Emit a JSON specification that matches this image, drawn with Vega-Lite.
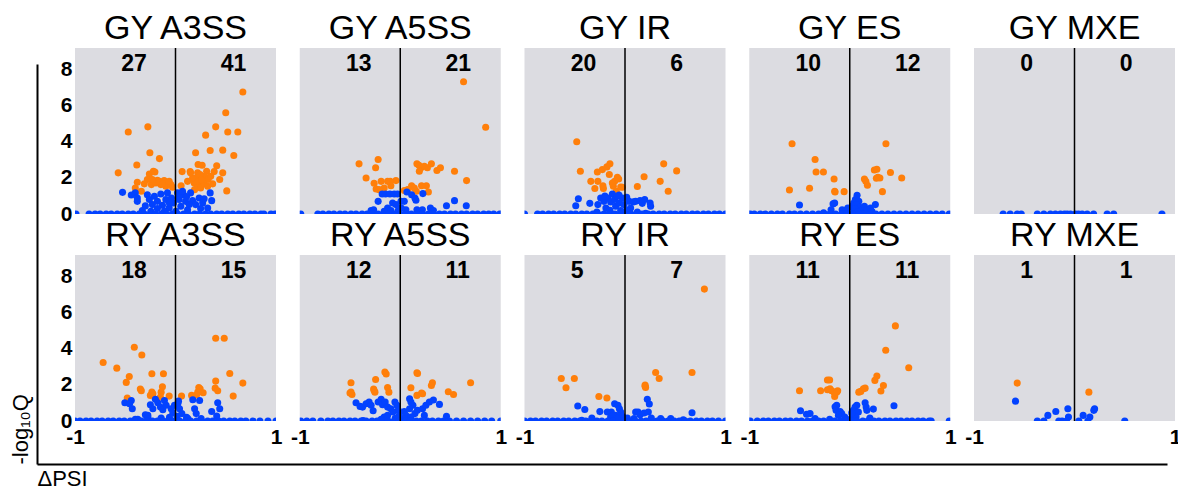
{
  "$schema": "https://vega.github.io/schema/vega-lite/v6.json",
  "background": "white",
  "padding": {"left": 9, "top": 12, "right": 0, "bottom": 0},
  "config": {
    "font": "Liberation Sans",
    "view": {"fill": "#dcdce1", "stroke": null},
    "axis": {"grid": false, "ticks": false, "domain": false, "labelColor": "black", "titleColor": "black"},
    "axisX": {"labelFontSize": 21, "labelFontWeight": "bold", "labelPadding": 5, "labelFlush": false},
    "axisY": {"labelFontSize": 21, "labelFontWeight": "bold", "labelPadding": 3},
    "title": {"fontSize": 34, "fontWeight": "normal", "color": "black", "anchor": "middle", "frame": "group", "baseline": "bottom", "offset": 1},
    "point": {"filled": true, "size": 50, "opacity": 1},
    "text": {"align": "left", "baseline": "alphabetic", "fontSize": 23, "fontWeight": "bold", "color": "black"},
    "rule": {"color": "black", "strokeWidth": 1.5},
    "range": {"category": ["#0342ff", "#ff7f0a"]}
  },
  "data": {"name": "volcano"},
  "datasets": {
    "volcano": [
      {"p":"GY A3SS","side":"L","n":27},{"p":"GY A3SS","side":"R","n":41},
      {"p":"GY A5SS","side":"L","n":13},{"p":"GY A5SS","side":"R","n":21},
      {"p":"GY IR","side":"L","n":20},{"p":"GY IR","side":"R","n":6},
      {"p":"GY ES","side":"L","n":10},{"p":"GY ES","side":"R","n":12},
      {"p":"GY MXE","side":"L","n":0},{"p":"GY MXE","side":"R","n":0},
      {"p":"RY A3SS","side":"L","n":18},{"p":"RY A3SS","side":"R","n":15},
      {"p":"RY A5SS","side":"L","n":12},{"p":"RY A5SS","side":"R","n":11},
      {"p":"RY IR","side":"L","n":5},{"p":"RY IR","side":"R","n":7},
      {"p":"RY ES","side":"L","n":11},{"p":"RY ES","side":"R","n":11},
      {"p":"RY MXE","side":"L","n":1},{"p":"RY MXE","side":"R","n":1},

      {"p":"GY A3SS","c":"sig","x":0.67,"y":6.76},{"p":"GY A3SS","c":"sig","x":0.5,"y":5.61},{"p":"GY A3SS","c":"sig","x":0.4,"y":4.83},{"p":"GY A3SS","c":"sig","x":0.3,"y":4.37},{"p":"GY A3SS","c":"sig","x":0.52,"y":4.54},{"p":"GY A3SS","c":"sig","x":0.62,"y":4.54},{"p":"GY A3SS","c":"sig","x":0.345,"y":3.52},{"p":"GY A3SS","c":"sig","x":0.47,"y":3.54},{"p":"GY A3SS","c":"sig","x":0.58,"y":3.24},{"p":"GY A3SS","c":"sig","x":0.2,"y":3.39},{"p":"GY A3SS","c":"sig","x":0.225,"y":2.74},{"p":"GY A3SS","c":"sig","x":0.265,"y":2.7},{"p":"GY A3SS","c":"sig","x":0.41,"y":2.67},{"p":"GY A3SS","c":"sig","x":0.066,"y":2.35},{"p":"GY A3SS","c":"sig","x":0.146,"y":2.35},{"p":"GY A3SS","c":"sig","x":0.22,"y":2.28},{"p":"GY A3SS","c":"sig","x":0.31,"y":2.37},{"p":"GY A3SS","c":"sig","x":0.385,"y":2.35},{"p":"GY A3SS","c":"sig","x":0.47,"y":2.28},{"p":"GY A3SS","c":"sig","x":0.21,"y":2.0},{"p":"GY A3SS","c":"sig","x":0.29,"y":2.09},{"p":"GY A3SS","c":"sig","x":0.325,"y":1.91},{"p":"GY A3SS","c":"sig","x":0.44,"y":1.91},{"p":"GY A3SS","c":"sig","x":0.186,"y":1.72},{"p":"GY A3SS","c":"sig","x":0.235,"y":1.67},{"p":"GY A3SS","c":"sig","x":0.27,"y":1.72},{"p":"GY A3SS","c":"sig","x":0.22,"y":1.54},{"p":"GY A3SS","c":"sig","x":0.25,"y":1.44},{"p":"GY A3SS","c":"sig","x":0.37,"y":1.67},{"p":"GY A3SS","c":"sig","x":0.056,"y":1.57},{"p":"GY A3SS","c":"sig","x":0.51,"y":1.28},{"p":"GY A3SS","c":"sig","x":0.2,"y":1.81},{"p":"GY A3SS","c":"sig","x":0.245,"y":2.19},{"p":"GY A3SS","c":"sig","x":0.35,"y":2.09},{"p":"GY A3SS","c":"sig","x":0.17,"y":1.99},{"p":"GY A3SS","c":"sig","x":0.285,"y":1.67},{"p":"GY A3SS","c":"sig","x":0.12,"y":1.81},{"p":"GY A3SS","c":"sig","x":0.32,"y":1.54},{"p":"GY A3SS","c":"sig","x":0.15,"y":2.28},{"p":"GY A3SS","c":"sig","x":0.26,"y":1.9},{"p":"GY A3SS","c":"sig","x":0.19,"y":1.35},
      {"p":"GY A3SS","c":"sig","x":-0.47,"y":4.54},{"p":"GY A3SS","c":"sig","x":-0.275,"y":4.83},{"p":"GY A3SS","c":"sig","x":-0.255,"y":3.39},{"p":"GY A3SS","c":"sig","x":-0.16,"y":3.07},{"p":"GY A3SS","c":"sig","x":-0.385,"y":2.72},{"p":"GY A3SS","c":"sig","x":-0.57,"y":2.28},{"p":"GY A3SS","c":"sig","x":-0.38,"y":1.76},{"p":"GY A3SS","c":"sig","x":-0.4,"y":1.44},{"p":"GY A3SS","c":"sig","x":-0.34,"y":1.26},{"p":"GY A3SS","c":"sig","x":-0.26,"y":2.22},{"p":"GY A3SS","c":"sig","x":-0.22,"y":2.37},{"p":"GY A3SS","c":"sig","x":-0.205,"y":2.33},{"p":"GY A3SS","c":"sig","x":-0.28,"y":1.91},{"p":"GY A3SS","c":"sig","x":-0.24,"y":1.63},{"p":"GY A3SS","c":"sig","x":-0.18,"y":1.87},{"p":"GY A3SS","c":"sig","x":-0.146,"y":1.63},{"p":"GY A3SS","c":"sig","x":-0.113,"y":1.85},{"p":"GY A3SS","c":"sig","x":-0.08,"y":1.72},{"p":"GY A3SS","c":"sig","x":-0.096,"y":1.54},{"p":"GY A3SS","c":"sig","x":-0.046,"y":1.63},{"p":"GY A3SS","c":"sig","x":-0.03,"y":1.48},{"p":"GY A3SS","c":"sig","x":-0.195,"y":1.72},{"p":"GY A3SS","c":"sig","x":-0.16,"y":1.81},{"p":"GY A3SS","c":"sig","x":-0.13,"y":1.67},{"p":"GY A3SS","c":"sig","x":-0.23,"y":1.91},{"p":"GY A3SS","c":"sig","x":-0.063,"y":1.81},{"p":"GY A3SS","c":"sig","x":-0.31,"y":1.67},
      {"p":"GY A3SS","c":"ns","x":-0.527,"y":1.2},{"p":"GY A3SS","c":"ns","x":-0.4,"y":1.17},{"p":"GY A3SS","c":"ns","x":-0.38,"y":0.89},{"p":"GY A3SS","c":"ns","x":-0.38,"y":0.7},{"p":"GY A3SS","c":"ns","x":-0.33,"y":0.19},{"p":"GY A3SS","c":"ns","x":-0.28,"y":1.07},{"p":"GY A3SS","c":"ns","x":-0.26,"y":0.8},{"p":"GY A3SS","c":"ns","x":-0.23,"y":0.52},{"p":"GY A3SS","c":"ns","x":-0.21,"y":0.98},{"p":"GY A3SS","c":"ns","x":-0.18,"y":0.7},{"p":"GY A3SS","c":"ns","x":-0.146,"y":1.11},{"p":"GY A3SS","c":"ns","x":-0.13,"y":0.48},{"p":"GY A3SS","c":"ns","x":-0.096,"y":0.8},{"p":"GY A3SS","c":"ns","x":-0.08,"y":1.17},{"p":"GY A3SS","c":"ns","x":-0.063,"y":0.33},{"p":"GY A3SS","c":"ns","x":-0.04,"y":0.89},{"p":"GY A3SS","c":"ns","x":-0.02,"y":0.61},{"p":"GY A3SS","c":"ns","x":0.02,"y":1.17},{"p":"GY A3SS","c":"ns","x":0.036,"y":0.8},{"p":"GY A3SS","c":"ns","x":0.053,"y":0.43},{"p":"GY A3SS","c":"ns","x":0.08,"y":1.07},{"p":"GY A3SS","c":"ns","x":0.1,"y":0.7},{"p":"GY A3SS","c":"ns","x":0.12,"y":0.24},{"p":"GY A3SS","c":"ns","x":0.15,"y":1.17},{"p":"GY A3SS","c":"ns","x":0.17,"y":0.74},{"p":"GY A3SS","c":"ns","x":0.2,"y":0.52},{"p":"GY A3SS","c":"ns","x":0.235,"y":0.89},{"p":"GY A3SS","c":"ns","x":0.27,"y":0.61},{"p":"GY A3SS","c":"ns","x":0.285,"y":0.85},{"p":"GY A3SS","c":"ns","x":0.345,"y":1.17},{"p":"GY A3SS","c":"ns","x":0.36,"y":0.74},{"p":"GY A3SS","c":"ns","x":0.32,"y":0.33},{"p":"GY A3SS","c":"ns","x":-0.245,"y":0.15},{"p":"GY A3SS","c":"ns","x":0.003,"y":0.15},{"p":"GY A3SS","c":"ns","x":0.036,"y":0.98},{"p":"GY A3SS","c":"ns","x":0.07,"y":1.26},{"p":"GY A3SS","c":"ns","x":-0.11,"y":0.15},{"p":"GY A3SS","c":"ns","x":0.136,"y":0.52},{"p":"GY A3SS","c":"ns","x":-0.18,"y":0.3},{"p":"GY A3SS","c":"ns","x":-0.44,"y":1.05},{"p":"GY A3SS","c":"ns","x":-0.3,"y":0.45},{"p":"GY A3SS","c":"ns","x":0.25,"y":0.3},{"p":"GY A3SS","c":"ns","x":-0.06,"y":0.6},{"p":"GY A3SS","c":"ns","x":0.11,"y":0.95},
      {"p":"GY A3SS","c":"ns","x":-0.99,"y":0},{"p":"GY A3SS","c":"ns","x":-0.86,"y":0},{"p":"GY A3SS","c":"ns","x":-0.8,"y":0},{"p":"GY A3SS","c":"ns","x":-0.75,"y":0},{"p":"GY A3SS","c":"ns","x":-0.69,"y":0},{"p":"GY A3SS","c":"ns","x":-0.64,"y":0},{"p":"GY A3SS","c":"ns","x":-0.58,"y":0},{"p":"GY A3SS","c":"ns","x":-0.53,"y":0},{"p":"GY A3SS","c":"ns","x":-0.47,"y":0},{"p":"GY A3SS","c":"ns","x":-0.42,"y":0},{"p":"GY A3SS","c":"ns","x":-0.36,"y":0},{"p":"GY A3SS","c":"ns","x":-0.31,"y":0},{"p":"GY A3SS","c":"ns","x":-0.25,"y":0},{"p":"GY A3SS","c":"ns","x":-0.2,"y":0},{"p":"GY A3SS","c":"ns","x":-0.14,"y":0},{"p":"GY A3SS","c":"ns","x":-0.09,"y":0},{"p":"GY A3SS","c":"ns","x":-0.03,"y":0},{"p":"GY A3SS","c":"ns","x":0.02,"y":0},{"p":"GY A3SS","c":"ns","x":0.08,"y":0},{"p":"GY A3SS","c":"ns","x":0.13,"y":0},{"p":"GY A3SS","c":"ns","x":0.19,"y":0},{"p":"GY A3SS","c":"ns","x":0.24,"y":0},{"p":"GY A3SS","c":"ns","x":0.3,"y":0},{"p":"GY A3SS","c":"ns","x":0.35,"y":0},{"p":"GY A3SS","c":"ns","x":0.41,"y":0},{"p":"GY A3SS","c":"ns","x":0.46,"y":0},{"p":"GY A3SS","c":"ns","x":0.52,"y":0},{"p":"GY A3SS","c":"ns","x":0.57,"y":0},{"p":"GY A3SS","c":"ns","x":0.63,"y":0},{"p":"GY A3SS","c":"ns","x":0.68,"y":0},{"p":"GY A3SS","c":"ns","x":0.74,"y":0},{"p":"GY A3SS","c":"ns","x":0.79,"y":0},{"p":"GY A3SS","c":"ns","x":0.85,"y":0},{"p":"GY A3SS","c":"ns","x":0.88,"y":0},{"p":"GY A3SS","c":"ns","x":0.95,"y":0},{"p":"GY A3SS","c":"ns","x":0.99,"y":0},

      {"p":"GY A5SS","c":"sig","x":0.63,"y":7.33},{"p":"GY A5SS","c":"sig","x":0.85,"y":4.81},{"p":"GY A5SS","c":"sig","x":0.166,"y":2.78},{"p":"GY A5SS","c":"sig","x":0.186,"y":2.7},{"p":"GY A5SS","c":"sig","x":0.206,"y":2.56},{"p":"GY A5SS","c":"sig","x":0.27,"y":2.56},{"p":"GY A5SS","c":"sig","x":0.31,"y":2.78},{"p":"GY A5SS","c":"sig","x":0.365,"y":2.41},{"p":"GY A5SS","c":"sig","x":0.4,"y":2.56},{"p":"GY A5SS","c":"sig","x":0.54,"y":2.37},{"p":"GY A5SS","c":"sig","x":0.66,"y":1.85},{"p":"GY A5SS","c":"sig","x":0.04,"y":1.3},{"p":"GY A5SS","c":"sig","x":0.113,"y":1.57},{"p":"GY A5SS","c":"sig","x":0.16,"y":1.26},{"p":"GY A5SS","c":"sig","x":0.212,"y":1.57},{"p":"GY A5SS","c":"sig","x":0.26,"y":1.57},{"p":"GY A5SS","c":"sig","x":0.28,"y":1.22},{"p":"GY A5SS","c":"sig","x":0.19,"y":2.37},{"p":"GY A5SS","c":"sig","x":0.24,"y":2.65},{"p":"GY A5SS","c":"sig","x":0.14,"y":1.44},{"p":"GY A5SS","c":"sig","x":0.075,"y":1.35},
      {"p":"GY A5SS","c":"sig","x":-0.41,"y":2.78},{"p":"GY A5SS","c":"sig","x":-0.22,"y":3.02},{"p":"GY A5SS","c":"sig","x":-0.245,"y":2.56},{"p":"GY A5SS","c":"sig","x":-0.34,"y":2.0},{"p":"GY A5SS","c":"sig","x":-0.26,"y":1.7},{"p":"GY A5SS","c":"sig","x":-0.24,"y":1.39},{"p":"GY A5SS","c":"sig","x":-0.19,"y":1.81},{"p":"GY A5SS","c":"sig","x":-0.16,"y":1.44},{"p":"GY A5SS","c":"sig","x":-0.126,"y":1.81},{"p":"GY A5SS","c":"sig","x":-0.093,"y":1.57},{"p":"GY A5SS","c":"sig","x":-0.043,"y":1.85},{"p":"GY A5SS","c":"sig","x":-0.21,"y":1.35},{"p":"GY A5SS","c":"sig","x":-0.1,"y":1.81},
      {"p":"GY A5SS","c":"ns","x":-0.146,"y":1.11},{"p":"GY A5SS","c":"ns","x":-0.103,"y":1.11},{"p":"GY A5SS","c":"ns","x":-0.06,"y":1.11},{"p":"GY A5SS","c":"ns","x":-0.027,"y":1.11},{"p":"GY A5SS","c":"ns","x":-0.22,"y":0.7},{"p":"GY A5SS","c":"ns","x":-0.29,"y":0.19},{"p":"GY A5SS","c":"ns","x":-0.265,"y":0.24},{"p":"GY A5SS","c":"ns","x":-0.126,"y":0.33},{"p":"GY A5SS","c":"ns","x":-0.076,"y":0.61},{"p":"GY A5SS","c":"ns","x":-0.043,"y":0.52},{"p":"GY A5SS","c":"ns","x":0.007,"y":0.7},{"p":"GY A5SS","c":"ns","x":0.04,"y":0.7},{"p":"GY A5SS","c":"ns","x":0.066,"y":1.22},{"p":"GY A5SS","c":"ns","x":0.113,"y":1.07},{"p":"GY A5SS","c":"ns","x":0.156,"y":0.76},{"p":"GY A5SS","c":"ns","x":0.146,"y":0.89},{"p":"GY A5SS","c":"ns","x":0.225,"y":1.13},{"p":"GY A5SS","c":"ns","x":0.3,"y":0.33},{"p":"GY A5SS","c":"ns","x":0.33,"y":0.19},{"p":"GY A5SS","c":"ns","x":0.46,"y":0.46},{"p":"GY A5SS","c":"ns","x":0.54,"y":0.74},{"p":"GY A5SS","c":"ns","x":0.657,"y":0.46},{"p":"GY A5SS","c":"ns","x":0.056,"y":0.24},{"p":"GY A5SS","c":"ns","x":0.166,"y":0.24},{"p":"GY A5SS","c":"ns","x":0.22,"y":0.24},{"p":"GY A5SS","c":"ns","x":-0.093,"y":0.19},{"p":"GY A5SS","c":"ns","x":-0.02,"y":0.19},{"p":"GY A5SS","c":"ns","x":-0.16,"y":0.15},{"p":"GY A5SS","c":"ns","x":-0.18,"y":1.11},{"p":"GY A5SS","c":"ns","x":0.01,"y":0.33},
      {"p":"GY A5SS","c":"ns","x":-0.99,"y":0},{"p":"GY A5SS","c":"ns","x":-0.82,"y":0},{"p":"GY A5SS","c":"ns","x":-0.77,"y":0},{"p":"GY A5SS","c":"ns","x":-0.71,"y":0},{"p":"GY A5SS","c":"ns","x":-0.66,"y":0},{"p":"GY A5SS","c":"ns","x":-0.6,"y":0},{"p":"GY A5SS","c":"ns","x":-0.55,"y":0},{"p":"GY A5SS","c":"ns","x":-0.49,"y":0},{"p":"GY A5SS","c":"ns","x":-0.44,"y":0},{"p":"GY A5SS","c":"ns","x":-0.38,"y":0},{"p":"GY A5SS","c":"ns","x":-0.33,"y":0},{"p":"GY A5SS","c":"ns","x":-0.27,"y":0},{"p":"GY A5SS","c":"ns","x":-0.22,"y":0},{"p":"GY A5SS","c":"ns","x":-0.16,"y":0},{"p":"GY A5SS","c":"ns","x":-0.11,"y":0},{"p":"GY A5SS","c":"ns","x":-0.05,"y":0},{"p":"GY A5SS","c":"ns","x":0.0,"y":0},{"p":"GY A5SS","c":"ns","x":0.06,"y":0},{"p":"GY A5SS","c":"ns","x":0.11,"y":0},{"p":"GY A5SS","c":"ns","x":0.17,"y":0},{"p":"GY A5SS","c":"ns","x":0.22,"y":0},{"p":"GY A5SS","c":"ns","x":0.28,"y":0},{"p":"GY A5SS","c":"ns","x":0.33,"y":0},{"p":"GY A5SS","c":"ns","x":0.39,"y":0},{"p":"GY A5SS","c":"ns","x":0.44,"y":0},{"p":"GY A5SS","c":"ns","x":0.5,"y":0},{"p":"GY A5SS","c":"ns","x":0.55,"y":0},{"p":"GY A5SS","c":"ns","x":0.61,"y":0},{"p":"GY A5SS","c":"ns","x":0.66,"y":0},{"p":"GY A5SS","c":"ns","x":0.72,"y":0},{"p":"GY A5SS","c":"ns","x":0.77,"y":0},{"p":"GY A5SS","c":"ns","x":0.83,"y":0},{"p":"GY A5SS","c":"ns","x":0.88,"y":0},{"p":"GY A5SS","c":"ns","x":0.93,"y":0},{"p":"GY A5SS","c":"ns","x":0.99,"y":0},

      {"p":"GY IR","c":"sig","x":-0.48,"y":4.0},{"p":"GY IR","c":"sig","x":-0.444,"y":2.37},{"p":"GY IR","c":"sig","x":-0.34,"y":1.81},{"p":"GY IR","c":"sig","x":-0.3,"y":1.41},{"p":"GY IR","c":"sig","x":-0.275,"y":2.33},{"p":"GY IR","c":"sig","x":-0.27,"y":1.81},{"p":"GY IR","c":"sig","x":-0.225,"y":2.46},{"p":"GY IR","c":"sig","x":-0.22,"y":1.57},{"p":"GY IR","c":"sig","x":-0.215,"y":1.41},{"p":"GY IR","c":"sig","x":-0.18,"y":2.61},{"p":"GY IR","c":"sig","x":-0.15,"y":2.78},{"p":"GY IR","c":"sig","x":-0.156,"y":2.19},{"p":"GY IR","c":"sig","x":-0.116,"y":1.54},{"p":"GY IR","c":"sig","x":-0.103,"y":1.81},{"p":"GY IR","c":"sig","x":-0.076,"y":2.04},{"p":"GY IR","c":"sig","x":-0.063,"y":1.94},{"p":"GY IR","c":"sig","x":-0.086,"y":1.26},{"p":"GY IR","c":"sig","x":-0.043,"y":1.5},{"p":"GY IR","c":"sig","x":-0.026,"y":1.48},{"p":"GY IR","c":"sig","x":-0.126,"y":1.72},
      {"p":"GY IR","c":"sig","x":0.385,"y":2.78},{"p":"GY IR","c":"sig","x":0.514,"y":2.39},{"p":"GY IR","c":"sig","x":0.19,"y":2.06},{"p":"GY IR","c":"sig","x":0.35,"y":1.81},{"p":"GY IR","c":"sig","x":0.43,"y":1.26},{"p":"GY IR","c":"sig","x":0.123,"y":1.52},
      {"p":"GY IR","c":"ns","x":-0.49,"y":0.46},{"p":"GY IR","c":"ns","x":-0.464,"y":0.85},{"p":"GY IR","c":"ns","x":-0.35,"y":0.59},{"p":"GY IR","c":"ns","x":-0.28,"y":0.11},{"p":"GY IR","c":"ns","x":-0.27,"y":0.52},{"p":"GY IR","c":"ns","x":-0.242,"y":0.89},{"p":"GY IR","c":"ns","x":-0.21,"y":0.7},{"p":"GY IR","c":"ns","x":-0.19,"y":0.33},{"p":"GY IR","c":"ns","x":-0.17,"y":0.89},{"p":"GY IR","c":"ns","x":-0.143,"y":0.67},{"p":"GY IR","c":"ns","x":-0.126,"y":1.11},{"p":"GY IR","c":"ns","x":-0.103,"y":0.8},{"p":"GY IR","c":"ns","x":-0.093,"y":0.43},{"p":"GY IR","c":"ns","x":-0.076,"y":0.98},{"p":"GY IR","c":"ns","x":-0.056,"y":0.61},{"p":"GY IR","c":"ns","x":-0.043,"y":0.19},{"p":"GY IR","c":"ns","x":-0.026,"y":0.89},{"p":"GY IR","c":"ns","x":-0.01,"y":0.52},{"p":"GY IR","c":"ns","x":0.017,"y":0.93},{"p":"GY IR","c":"ns","x":0.04,"y":0.7},{"p":"GY IR","c":"ns","x":0.056,"y":0.33},{"p":"GY IR","c":"ns","x":0.083,"y":0.67},{"p":"GY IR","c":"ns","x":0.106,"y":0.7},{"p":"GY IR","c":"ns","x":0.123,"y":0.11},{"p":"GY IR","c":"ns","x":0.15,"y":0.74},{"p":"GY IR","c":"ns","x":0.172,"y":0.59},{"p":"GY IR","c":"ns","x":0.196,"y":0.8},{"p":"GY IR","c":"ns","x":0.25,"y":0.61},{"p":"GY IR","c":"ns","x":0.255,"y":0.43},{"p":"GY IR","c":"ns","x":0.205,"y":0.04},{"p":"GY IR","c":"ns","x":-0.2,"y":1.0},{"p":"GY IR","c":"ns","x":-0.06,"y":1.05},{"p":"GY IR","c":"ns","x":0.02,"y":0.2},{"p":"GY IR","c":"ns","x":-0.15,"y":0.2},
      {"p":"GY IR","c":"ns","x":-1.0,"y":0},{"p":"GY IR","c":"ns","x":-0.87,"y":0},{"p":"GY IR","c":"ns","x":-0.82,"y":0},{"p":"GY IR","c":"ns","x":-0.76,"y":0},{"p":"GY IR","c":"ns","x":-0.71,"y":0},{"p":"GY IR","c":"ns","x":-0.65,"y":0},{"p":"GY IR","c":"ns","x":-0.6,"y":0},{"p":"GY IR","c":"ns","x":-0.54,"y":0},{"p":"GY IR","c":"ns","x":-0.49,"y":0},{"p":"GY IR","c":"ns","x":-0.43,"y":0},{"p":"GY IR","c":"ns","x":-0.38,"y":0},{"p":"GY IR","c":"ns","x":-0.32,"y":0},{"p":"GY IR","c":"ns","x":-0.27,"y":0},{"p":"GY IR","c":"ns","x":-0.21,"y":0},{"p":"GY IR","c":"ns","x":-0.16,"y":0},{"p":"GY IR","c":"ns","x":-0.1,"y":0},{"p":"GY IR","c":"ns","x":-0.05,"y":0},{"p":"GY IR","c":"ns","x":0.01,"y":0},{"p":"GY IR","c":"ns","x":0.06,"y":0},{"p":"GY IR","c":"ns","x":0.12,"y":0},{"p":"GY IR","c":"ns","x":0.17,"y":0},{"p":"GY IR","c":"ns","x":0.23,"y":0},{"p":"GY IR","c":"ns","x":0.28,"y":0},{"p":"GY IR","c":"ns","x":0.34,"y":0},{"p":"GY IR","c":"ns","x":0.39,"y":0},{"p":"GY IR","c":"ns","x":0.45,"y":0},{"p":"GY IR","c":"ns","x":0.5,"y":0},{"p":"GY IR","c":"ns","x":0.56,"y":0},{"p":"GY IR","c":"ns","x":0.61,"y":0},{"p":"GY IR","c":"ns","x":0.67,"y":0},{"p":"GY IR","c":"ns","x":0.72,"y":0},{"p":"GY IR","c":"ns","x":0.78,"y":0},{"p":"GY IR","c":"ns","x":0.83,"y":0},{"p":"GY IR","c":"ns","x":0.89,"y":0},{"p":"GY IR","c":"ns","x":0.94,"y":0},{"p":"GY IR","c":"ns","x":1.0,"y":0},

      {"p":"GY ES","c":"sig","x":-0.574,"y":3.89},{"p":"GY ES","c":"sig","x":-0.345,"y":3.02},{"p":"GY ES","c":"sig","x":-0.335,"y":2.33},{"p":"GY ES","c":"sig","x":-0.262,"y":2.33},{"p":"GY ES","c":"sig","x":-0.156,"y":1.94},{"p":"GY ES","c":"sig","x":-0.6,"y":1.33},{"p":"GY ES","c":"sig","x":-0.4,"y":1.43},{"p":"GY ES","c":"sig","x":-0.15,"y":1.26},{"p":"GY ES","c":"sig","x":-0.056,"y":1.24},{"p":"GY ES","c":"sig","x":-0.146,"y":1.22},
      {"p":"GY ES","c":"sig","x":0.36,"y":3.89},{"p":"GY ES","c":"sig","x":0.245,"y":2.44},{"p":"GY ES","c":"sig","x":0.27,"y":2.48},{"p":"GY ES","c":"sig","x":0.405,"y":2.3},{"p":"GY ES","c":"sig","x":0.517,"y":2.0},{"p":"GY ES","c":"sig","x":0.146,"y":1.94},{"p":"GY ES","c":"sig","x":0.16,"y":1.81},{"p":"GY ES","c":"sig","x":0.176,"y":1.59},{"p":"GY ES","c":"sig","x":0.265,"y":1.98},{"p":"GY ES","c":"sig","x":0.3,"y":2.0},{"p":"GY ES","c":"sig","x":0.325,"y":1.24},{"p":"GY ES","c":"sig","x":0.28,"y":2.04},
      {"p":"GY ES","c":"ns","x":-0.5,"y":0.5},{"p":"GY ES","c":"ns","x":-0.166,"y":0.56},{"p":"GY ES","c":"ns","x":-0.15,"y":0.61},{"p":"GY ES","c":"ns","x":-0.186,"y":0.24},{"p":"GY ES","c":"ns","x":-0.26,"y":0.07},{"p":"GY ES","c":"ns","x":-0.076,"y":0.24},{"p":"GY ES","c":"ns","x":-0.043,"y":0.19},{"p":"GY ES","c":"ns","x":-0.02,"y":0.33},{"p":"GY ES","c":"ns","x":0.023,"y":0.43},{"p":"GY ES","c":"ns","x":0.04,"y":0.61},{"p":"GY ES","c":"ns","x":0.056,"y":0.8},{"p":"GY ES","c":"ns","x":0.073,"y":1.04},{"p":"GY ES","c":"ns","x":0.09,"y":0.7},{"p":"GY ES","c":"ns","x":0.066,"y":0.52},{"p":"GY ES","c":"ns","x":0.1,"y":0.37},{"p":"GY ES","c":"ns","x":0.123,"y":0.24},{"p":"GY ES","c":"ns","x":0.146,"y":0.43},{"p":"GY ES","c":"ns","x":0.17,"y":0.24},{"p":"GY ES","c":"ns","x":0.206,"y":0.33},{"p":"GY ES","c":"ns","x":0.255,"y":0.52},{"p":"GY ES","c":"ns","x":0.22,"y":0.15},{"p":"GY ES","c":"ns","x":0.04,"y":0.15},{"p":"GY ES","c":"ns","x":0.05,"y":0.3},{"p":"GY ES","c":"ns","x":0.08,"y":0.12},
      {"p":"GY ES","c":"ns","x":-0.99,"y":0},{"p":"GY ES","c":"ns","x":-0.95,"y":0},{"p":"GY ES","c":"ns","x":-0.89,"y":0},{"p":"GY ES","c":"ns","x":-0.84,"y":0},{"p":"GY ES","c":"ns","x":-0.78,"y":0},{"p":"GY ES","c":"ns","x":-0.72,"y":0},{"p":"GY ES","c":"ns","x":-0.67,"y":0},{"p":"GY ES","c":"ns","x":-0.6,"y":0},{"p":"GY ES","c":"ns","x":-0.55,"y":0},{"p":"GY ES","c":"ns","x":-0.49,"y":0},{"p":"GY ES","c":"ns","x":-0.43,"y":0},{"p":"GY ES","c":"ns","x":-0.37,"y":0},{"p":"GY ES","c":"ns","x":-0.31,"y":0},{"p":"GY ES","c":"ns","x":-0.26,"y":0},{"p":"GY ES","c":"ns","x":-0.2,"y":0},{"p":"GY ES","c":"ns","x":-0.14,"y":0},{"p":"GY ES","c":"ns","x":-0.08,"y":0},{"p":"GY ES","c":"ns","x":-0.03,"y":0},{"p":"GY ES","c":"ns","x":0.03,"y":0},{"p":"GY ES","c":"ns","x":0.09,"y":0},{"p":"GY ES","c":"ns","x":0.14,"y":0},{"p":"GY ES","c":"ns","x":0.2,"y":0},{"p":"GY ES","c":"ns","x":0.26,"y":0},{"p":"GY ES","c":"ns","x":0.32,"y":0},{"p":"GY ES","c":"ns","x":0.38,"y":0},{"p":"GY ES","c":"ns","x":0.44,"y":0},{"p":"GY ES","c":"ns","x":0.5,"y":0},{"p":"GY ES","c":"ns","x":0.56,"y":0},{"p":"GY ES","c":"ns","x":0.62,"y":0},{"p":"GY ES","c":"ns","x":0.68,"y":0},{"p":"GY ES","c":"ns","x":0.74,"y":0},{"p":"GY ES","c":"ns","x":0.8,"y":0},{"p":"GY ES","c":"ns","x":0.86,"y":0},{"p":"GY ES","c":"ns","x":0.92,"y":0},{"p":"GY ES","c":"ns","x":0.99,"y":0},

      {"p":"GY MXE","c":"ns","x":-0.71,"y":0},{"p":"GY MXE","c":"ns","x":-0.64,"y":0},{"p":"GY MXE","c":"ns","x":-0.57,"y":0},{"p":"GY MXE","c":"ns","x":-0.53,"y":0},{"p":"GY MXE","c":"ns","x":-0.37,"y":0},{"p":"GY MXE","c":"ns","x":-0.305,"y":0},{"p":"GY MXE","c":"ns","x":-0.24,"y":0},{"p":"GY MXE","c":"ns","x":-0.19,"y":0},{"p":"GY MXE","c":"ns","x":-0.14,"y":0},{"p":"GY MXE","c":"ns","x":-0.1,"y":0},{"p":"GY MXE","c":"ns","x":-0.073,"y":0},{"p":"GY MXE","c":"ns","x":-0.04,"y":0},{"p":"GY MXE","c":"ns","x":0.01,"y":0},{"p":"GY MXE","c":"ns","x":0.04,"y":0},{"p":"GY MXE","c":"ns","x":0.076,"y":0},{"p":"GY MXE","c":"ns","x":0.126,"y":0},{"p":"GY MXE","c":"ns","x":0.19,"y":0},{"p":"GY MXE","c":"ns","x":0.325,"y":0},{"p":"GY MXE","c":"ns","x":0.39,"y":0},{"p":"GY MXE","c":"ns","x":0.87,"y":0},

      {"p":"RY A3SS","c":"sig","x":-0.72,"y":3.24},{"p":"RY A3SS","c":"sig","x":-0.584,"y":2.93},{"p":"RY A3SS","c":"sig","x":-0.41,"y":4.09},{"p":"RY A3SS","c":"sig","x":-0.335,"y":3.66},{"p":"RY A3SS","c":"sig","x":-0.46,"y":2.47},{"p":"RY A3SS","c":"sig","x":-0.49,"y":2.14},{"p":"RY A3SS","c":"sig","x":-0.48,"y":1.27},{"p":"RY A3SS","c":"sig","x":-0.35,"y":1.77},{"p":"RY A3SS","c":"sig","x":-0.34,"y":1.68},{"p":"RY A3SS","c":"sig","x":-0.235,"y":2.62},{"p":"RY A3SS","c":"sig","x":-0.12,"y":2.62},{"p":"RY A3SS","c":"sig","x":-0.13,"y":1.9},{"p":"RY A3SS","c":"sig","x":-0.235,"y":1.6},{"p":"RY A3SS","c":"sig","x":-0.25,"y":1.42},{"p":"RY A3SS","c":"sig","x":-0.143,"y":1.6},{"p":"RY A3SS","c":"sig","x":-0.063,"y":1.38},{"p":"RY A3SS","c":"sig","x":-0.225,"y":1.51},{"p":"RY A3SS","c":"sig","x":-0.15,"y":1.33},
      {"p":"RY A3SS","c":"sig","x":0.4,"y":4.59},{"p":"RY A3SS","c":"sig","x":0.485,"y":4.59},{"p":"RY A3SS","c":"sig","x":0.54,"y":2.63},{"p":"RY A3SS","c":"sig","x":0.67,"y":2.1},{"p":"RY A3SS","c":"sig","x":0.4,"y":2.21},{"p":"RY A3SS","c":"sig","x":0.395,"y":1.82},{"p":"RY A3SS","c":"sig","x":0.42,"y":1.68},{"p":"RY A3SS","c":"sig","x":0.574,"y":1.38},{"p":"RY A3SS","c":"sig","x":0.232,"y":1.86},{"p":"RY A3SS","c":"sig","x":0.245,"y":1.79},{"p":"RY A3SS","c":"sig","x":0.275,"y":1.57},{"p":"RY A3SS","c":"sig","x":0.16,"y":1.42},{"p":"RY A3SS","c":"sig","x":0.06,"y":1.38},{"p":"RY A3SS","c":"sig","x":0.222,"y":1.6},{"p":"RY A3SS","c":"sig","x":0.21,"y":1.45},
      {"p":"RY A3SS","c":"ns","x":-0.504,"y":1.01},{"p":"RY A3SS","c":"ns","x":-0.44,"y":1.14},{"p":"RY A3SS","c":"ns","x":-0.457,"y":0.96},{"p":"RY A3SS","c":"ns","x":-0.43,"y":0.68},{"p":"RY A3SS","c":"ns","x":-0.4,"y":0.09},{"p":"RY A3SS","c":"ns","x":-0.375,"y":0.09},{"p":"RY A3SS","c":"ns","x":-0.3,"y":0.35},{"p":"RY A3SS","c":"ns","x":-0.275,"y":0.18},{"p":"RY A3SS","c":"ns","x":-0.25,"y":0.9},{"p":"RY A3SS","c":"ns","x":-0.225,"y":0.68},{"p":"RY A3SS","c":"ns","x":-0.2,"y":1.2},{"p":"RY A3SS","c":"ns","x":-0.176,"y":1.01},{"p":"RY A3SS","c":"ns","x":-0.15,"y":0.77},{"p":"RY A3SS","c":"ns","x":-0.126,"y":0.63},{"p":"RY A3SS","c":"ns","x":-0.11,"y":1.14},{"p":"RY A3SS","c":"ns","x":-0.093,"y":0.87},{"p":"RY A3SS","c":"ns","x":-0.143,"y":0.17},{"p":"RY A3SS","c":"ns","x":-0.043,"y":0.68},{"p":"RY A3SS","c":"ns","x":-0.027,"y":0.44},{"p":"RY A3SS","c":"ns","x":-0.01,"y":0.87},{"p":"RY A3SS","c":"ns","x":0.023,"y":0.96},{"p":"RY A3SS","c":"ns","x":0.04,"y":0.68},{"p":"RY A3SS","c":"ns","x":0.063,"y":0.41},{"p":"RY A3SS","c":"ns","x":0.017,"y":0.26},{"p":"RY A3SS","c":"ns","x":0.172,"y":1.18},{"p":"RY A3SS","c":"ns","x":0.19,"y":0.68},{"p":"RY A3SS","c":"ns","x":0.206,"y":0.41},{"p":"RY A3SS","c":"ns","x":0.24,"y":1.14},{"p":"RY A3SS","c":"ns","x":0.11,"y":0.2},{"p":"RY A3SS","c":"ns","x":0.255,"y":0.13},{"p":"RY A3SS","c":"ns","x":0.36,"y":0.53},{"p":"RY A3SS","c":"ns","x":0.42,"y":1.01},{"p":"RY A3SS","c":"ns","x":0.44,"y":0.68},{"p":"RY A3SS","c":"ns","x":0.41,"y":0.28},{"p":"RY A3SS","c":"ns","x":-0.275,"y":0.31},{"p":"RY A3SS","c":"ns","x":0.123,"y":0.13},{"p":"RY A3SS","c":"ns","x":0.03,"y":1.1},{"p":"RY A3SS","c":"ns","x":-0.06,"y":0.2},
      {"p":"RY A3SS","c":"ns","x":-1.0,"y":0},{"p":"RY A3SS","c":"ns","x":-0.95,"y":0},{"p":"RY A3SS","c":"ns","x":-0.89,"y":0},{"p":"RY A3SS","c":"ns","x":-0.84,"y":0},{"p":"RY A3SS","c":"ns","x":-0.78,"y":0},{"p":"RY A3SS","c":"ns","x":-0.73,"y":0},{"p":"RY A3SS","c":"ns","x":-0.67,"y":0},{"p":"RY A3SS","c":"ns","x":-0.62,"y":0},{"p":"RY A3SS","c":"ns","x":-0.56,"y":0},{"p":"RY A3SS","c":"ns","x":-0.51,"y":0},{"p":"RY A3SS","c":"ns","x":-0.45,"y":0},{"p":"RY A3SS","c":"ns","x":-0.4,"y":0},{"p":"RY A3SS","c":"ns","x":-0.34,"y":0},{"p":"RY A3SS","c":"ns","x":-0.29,"y":0},{"p":"RY A3SS","c":"ns","x":-0.23,"y":0},{"p":"RY A3SS","c":"ns","x":-0.18,"y":0},{"p":"RY A3SS","c":"ns","x":-0.12,"y":0},{"p":"RY A3SS","c":"ns","x":-0.07,"y":0},{"p":"RY A3SS","c":"ns","x":-0.01,"y":0},{"p":"RY A3SS","c":"ns","x":0.04,"y":0},{"p":"RY A3SS","c":"ns","x":0.1,"y":0},{"p":"RY A3SS","c":"ns","x":0.15,"y":0},{"p":"RY A3SS","c":"ns","x":0.21,"y":0},{"p":"RY A3SS","c":"ns","x":0.26,"y":0},{"p":"RY A3SS","c":"ns","x":0.32,"y":0},{"p":"RY A3SS","c":"ns","x":0.37,"y":0},{"p":"RY A3SS","c":"ns","x":0.43,"y":0},{"p":"RY A3SS","c":"ns","x":0.48,"y":0},{"p":"RY A3SS","c":"ns","x":0.54,"y":0},{"p":"RY A3SS","c":"ns","x":0.59,"y":0},{"p":"RY A3SS","c":"ns","x":0.65,"y":0},{"p":"RY A3SS","c":"ns","x":0.7,"y":0},{"p":"RY A3SS","c":"ns","x":0.77,"y":0},{"p":"RY A3SS","c":"ns","x":0.84,"y":0},{"p":"RY A3SS","c":"ns","x":0.92,"y":0},{"p":"RY A3SS","c":"ns","x":1.0,"y":0},

      {"p":"RY A5SS","c":"sig","x":-0.49,"y":2.12},{"p":"RY A5SS","c":"sig","x":-0.49,"y":1.6},{"p":"RY A5SS","c":"sig","x":-0.48,"y":1.47},{"p":"RY A5SS","c":"sig","x":-0.245,"y":2.3},{"p":"RY A5SS","c":"sig","x":-0.265,"y":1.77},{"p":"RY A5SS","c":"sig","x":-0.252,"y":1.6},{"p":"RY A5SS","c":"sig","x":-0.153,"y":2.71},{"p":"RY A5SS","c":"sig","x":-0.14,"y":2.6},{"p":"RY A5SS","c":"sig","x":-0.126,"y":1.86},{"p":"RY A5SS","c":"sig","x":-0.113,"y":1.6},{"p":"RY A5SS","c":"sig","x":-0.26,"y":1.69},{"p":"RY A5SS","c":"sig","x":-0.5,"y":1.55},
      {"p":"RY A5SS","c":"sig","x":0.166,"y":2.67},{"p":"RY A5SS","c":"sig","x":0.106,"y":1.84},{"p":"RY A5SS","c":"sig","x":0.166,"y":1.42},{"p":"RY A5SS","c":"sig","x":0.212,"y":1.55},{"p":"RY A5SS","c":"sig","x":0.32,"y":2.12},{"p":"RY A5SS","c":"sig","x":0.31,"y":1.97},{"p":"RY A5SS","c":"sig","x":0.478,"y":1.62},{"p":"RY A5SS","c":"sig","x":0.53,"y":1.47},{"p":"RY A5SS","c":"sig","x":0.7,"y":2.12},{"p":"RY A5SS","c":"sig","x":0.172,"y":2.63},{"p":"RY A5SS","c":"sig","x":0.222,"y":1.51},
      {"p":"RY A5SS","c":"ns","x":-0.44,"y":1.01},{"p":"RY A5SS","c":"ns","x":-0.4,"y":0.81},{"p":"RY A5SS","c":"ns","x":-0.375,"y":0.77},{"p":"RY A5SS","c":"ns","x":-0.34,"y":0.96},{"p":"RY A5SS","c":"ns","x":-0.31,"y":1.05},{"p":"RY A5SS","c":"ns","x":-0.29,"y":0.87},{"p":"RY A5SS","c":"ns","x":-0.27,"y":0.57},{"p":"RY A5SS","c":"ns","x":-0.37,"y":0.02},{"p":"RY A5SS","c":"ns","x":-0.22,"y":1.05},{"p":"RY A5SS","c":"ns","x":-0.19,"y":1.2},{"p":"RY A5SS","c":"ns","x":-0.176,"y":0.9},{"p":"RY A5SS","c":"ns","x":-0.15,"y":1.05},{"p":"RY A5SS","c":"ns","x":-0.126,"y":0.77},{"p":"RY A5SS","c":"ns","x":-0.093,"y":0.68},{"p":"RY A5SS","c":"ns","x":-0.053,"y":1.05},{"p":"RY A5SS","c":"ns","x":-0.033,"y":0.87},{"p":"RY A5SS","c":"ns","x":-0.02,"y":0.59},{"p":"RY A5SS","c":"ns","x":-0.073,"y":0.5},{"p":"RY A5SS","c":"ns","x":-0.16,"y":0.22},{"p":"RY A5SS","c":"ns","x":-0.19,"y":0.09},{"p":"RY A5SS","c":"ns","x":-0.126,"y":0.31},{"p":"RY A5SS","c":"ns","x":0.04,"y":0.53},{"p":"RY A5SS","c":"ns","x":0.093,"y":1.23},{"p":"RY A5SS","c":"ns","x":0.106,"y":1.05},{"p":"RY A5SS","c":"ns","x":0.126,"y":0.87},{"p":"RY A5SS","c":"ns","x":0.093,"y":0.68},{"p":"RY A5SS","c":"ns","x":0.056,"y":0.31},{"p":"RY A5SS","c":"ns","x":0.146,"y":0.41},{"p":"RY A5SS","c":"ns","x":0.17,"y":0.59},{"p":"RY A5SS","c":"ns","x":0.222,"y":0.68},{"p":"RY A5SS","c":"ns","x":0.255,"y":0.87},{"p":"RY A5SS","c":"ns","x":0.29,"y":1.05},{"p":"RY A5SS","c":"ns","x":0.33,"y":1.16},{"p":"RY A5SS","c":"ns","x":0.39,"y":0.92},{"p":"RY A5SS","c":"ns","x":0.46,"y":0.26},{"p":"RY A5SS","c":"ns","x":0.24,"y":0.31},{"p":"RY A5SS","c":"ns","x":0.106,"y":0.22},{"p":"RY A5SS","c":"ns","x":0.04,"y":0.13},{"p":"RY A5SS","c":"ns","x":-0.01,"y":0.3},{"p":"RY A5SS","c":"ns","x":-0.05,"y":0.15},
      {"p":"RY A5SS","c":"ns","x":-0.99,"y":0},{"p":"RY A5SS","c":"ns","x":-0.93,"y":0},{"p":"RY A5SS","c":"ns","x":-0.87,"y":0},{"p":"RY A5SS","c":"ns","x":-0.79,"y":0},{"p":"RY A5SS","c":"ns","x":-0.72,"y":0},{"p":"RY A5SS","c":"ns","x":-0.67,"y":0},{"p":"RY A5SS","c":"ns","x":-0.61,"y":0},{"p":"RY A5SS","c":"ns","x":-0.56,"y":0},{"p":"RY A5SS","c":"ns","x":-0.5,"y":0},{"p":"RY A5SS","c":"ns","x":-0.45,"y":0},{"p":"RY A5SS","c":"ns","x":-0.39,"y":0},{"p":"RY A5SS","c":"ns","x":-0.34,"y":0},{"p":"RY A5SS","c":"ns","x":-0.28,"y":0},{"p":"RY A5SS","c":"ns","x":-0.23,"y":0},{"p":"RY A5SS","c":"ns","x":-0.17,"y":0},{"p":"RY A5SS","c":"ns","x":-0.12,"y":0},{"p":"RY A5SS","c":"ns","x":-0.06,"y":0},{"p":"RY A5SS","c":"ns","x":-0.01,"y":0},{"p":"RY A5SS","c":"ns","x":0.05,"y":0},{"p":"RY A5SS","c":"ns","x":0.1,"y":0},{"p":"RY A5SS","c":"ns","x":0.16,"y":0},{"p":"RY A5SS","c":"ns","x":0.21,"y":0},{"p":"RY A5SS","c":"ns","x":0.27,"y":0},{"p":"RY A5SS","c":"ns","x":0.32,"y":0},{"p":"RY A5SS","c":"ns","x":0.38,"y":0},{"p":"RY A5SS","c":"ns","x":0.43,"y":0},{"p":"RY A5SS","c":"ns","x":0.49,"y":0},{"p":"RY A5SS","c":"ns","x":0.56,"y":0},{"p":"RY A5SS","c":"ns","x":0.63,"y":0},{"p":"RY A5SS","c":"ns","x":0.7,"y":0},{"p":"RY A5SS","c":"ns","x":0.77,"y":0},{"p":"RY A5SS","c":"ns","x":0.84,"y":0},{"p":"RY A5SS","c":"ns","x":0.91,"y":0},{"p":"RY A5SS","c":"ns","x":1.0,"y":0},

      {"p":"RY IR","c":"sig","x":-0.634,"y":2.36},{"p":"RY IR","c":"sig","x":-0.504,"y":2.36},{"p":"RY IR","c":"sig","x":-0.587,"y":1.84},{"p":"RY IR","c":"sig","x":-0.26,"y":1.36},{"p":"RY IR","c":"sig","x":-0.18,"y":1.27},
      {"p":"RY IR","c":"sig","x":0.79,"y":7.31},{"p":"RY IR","c":"sig","x":0.305,"y":2.69},{"p":"RY IR","c":"sig","x":0.34,"y":2.36},{"p":"RY IR","c":"sig","x":0.667,"y":2.69},{"p":"RY IR","c":"sig","x":0.2,"y":2.0},{"p":"RY IR","c":"sig","x":0.205,"y":1.86},{"p":"RY IR","c":"sig","x":0.2,"y":1.93},
      {"p":"RY IR","c":"ns","x":-0.47,"y":0.83},{"p":"RY IR","c":"ns","x":-0.4,"y":0.64},{"p":"RY IR","c":"ns","x":-0.25,"y":0.52},{"p":"RY IR","c":"ns","x":-0.33,"y":0.17},{"p":"RY IR","c":"ns","x":-0.43,"y":0.04},{"p":"RY IR","c":"ns","x":-0.176,"y":0.5},{"p":"RY IR","c":"ns","x":-0.136,"y":0.5},{"p":"RY IR","c":"ns","x":-0.103,"y":0.96},{"p":"RY IR","c":"ns","x":-0.07,"y":0.87},{"p":"RY IR","c":"ns","x":-0.056,"y":0.68},{"p":"RY IR","c":"ns","x":-0.043,"y":0.5},{"p":"RY IR","c":"ns","x":-0.093,"y":0.31},{"p":"RY IR","c":"ns","x":-0.143,"y":0.22},{"p":"RY IR","c":"ns","x":-0.026,"y":0.26},{"p":"RY IR","c":"ns","x":0.023,"y":0.17},{"p":"RY IR","c":"ns","x":0.106,"y":0.5},{"p":"RY IR","c":"ns","x":0.13,"y":0.5},{"p":"RY IR","c":"ns","x":0.15,"y":0.35},{"p":"RY IR","c":"ns","x":0.222,"y":1.2},{"p":"RY IR","c":"ns","x":0.242,"y":0.94},{"p":"RY IR","c":"ns","x":0.19,"y":0.44},{"p":"RY IR","c":"ns","x":0.232,"y":0.5},{"p":"RY IR","c":"ns","x":0.262,"y":0.17},{"p":"RY IR","c":"ns","x":0.355,"y":0.13},{"p":"RY IR","c":"ns","x":0.455,"y":0.13},{"p":"RY IR","c":"ns","x":0.58,"y":0.07},{"p":"RY IR","c":"ns","x":0.667,"y":0.46},{"p":"RY IR","c":"ns","x":0.09,"y":0.13},{"p":"RY IR","c":"ns","x":-0.12,"y":0.3},{"p":"RY IR","c":"ns","x":-0.08,"y":0.15},
      {"p":"RY IR","c":"ns","x":-1.0,"y":0},{"p":"RY IR","c":"ns","x":-0.94,"y":0},{"p":"RY IR","c":"ns","x":-0.89,"y":0},{"p":"RY IR","c":"ns","x":-0.83,"y":0},{"p":"RY IR","c":"ns","x":-0.78,"y":0},{"p":"RY IR","c":"ns","x":-0.72,"y":0},{"p":"RY IR","c":"ns","x":-0.67,"y":0},{"p":"RY IR","c":"ns","x":-0.61,"y":0},{"p":"RY IR","c":"ns","x":-0.56,"y":0},{"p":"RY IR","c":"ns","x":-0.5,"y":0},{"p":"RY IR","c":"ns","x":-0.45,"y":0},{"p":"RY IR","c":"ns","x":-0.39,"y":0},{"p":"RY IR","c":"ns","x":-0.34,"y":0},{"p":"RY IR","c":"ns","x":-0.28,"y":0},{"p":"RY IR","c":"ns","x":-0.23,"y":0},{"p":"RY IR","c":"ns","x":-0.17,"y":0},{"p":"RY IR","c":"ns","x":-0.12,"y":0},{"p":"RY IR","c":"ns","x":-0.06,"y":0},{"p":"RY IR","c":"ns","x":-0.01,"y":0},{"p":"RY IR","c":"ns","x":0.05,"y":0},{"p":"RY IR","c":"ns","x":0.1,"y":0},{"p":"RY IR","c":"ns","x":0.16,"y":0},{"p":"RY IR","c":"ns","x":0.21,"y":0},{"p":"RY IR","c":"ns","x":0.27,"y":0},{"p":"RY IR","c":"ns","x":0.32,"y":0},{"p":"RY IR","c":"ns","x":0.38,"y":0},{"p":"RY IR","c":"ns","x":0.43,"y":0},{"p":"RY IR","c":"ns","x":0.49,"y":0},{"p":"RY IR","c":"ns","x":0.54,"y":0},{"p":"RY IR","c":"ns","x":0.6,"y":0},{"p":"RY IR","c":"ns","x":0.65,"y":0},{"p":"RY IR","c":"ns","x":0.71,"y":0},{"p":"RY IR","c":"ns","x":0.76,"y":0},{"p":"RY IR","c":"ns","x":0.82,"y":0},{"p":"RY IR","c":"ns","x":0.87,"y":0},{"p":"RY IR","c":"ns","x":0.93,"y":0},{"p":"RY IR","c":"ns","x":1.0,"y":0},

      {"p":"RY ES","c":"sig","x":-0.5,"y":1.68},{"p":"RY ES","c":"sig","x":-0.29,"y":1.68},{"p":"RY ES","c":"sig","x":-0.222,"y":2.27},{"p":"RY ES","c":"sig","x":-0.2,"y":2.27},{"p":"RY ES","c":"sig","x":-0.222,"y":1.73},{"p":"RY ES","c":"sig","x":-0.18,"y":1.68},{"p":"RY ES","c":"sig","x":-0.156,"y":1.6},{"p":"RY ES","c":"sig","x":-0.12,"y":1.68},{"p":"RY ES","c":"sig","x":-0.15,"y":1.36},{"p":"RY ES","c":"sig","x":-0.196,"y":1.79},{"p":"RY ES","c":"sig","x":-0.13,"y":1.6},
      {"p":"RY ES","c":"sig","x":0.454,"y":5.27},{"p":"RY ES","c":"sig","x":0.358,"y":3.92},{"p":"RY ES","c":"sig","x":0.587,"y":2.95},{"p":"RY ES","c":"sig","x":0.27,"y":2.49},{"p":"RY ES","c":"sig","x":0.25,"y":2.25},{"p":"RY ES","c":"sig","x":0.335,"y":1.97},{"p":"RY ES","c":"sig","x":0.31,"y":1.66},{"p":"RY ES","c":"sig","x":0.136,"y":1.79},{"p":"RY ES","c":"sig","x":0.11,"y":1.64},{"p":"RY ES","c":"sig","x":0.09,"y":1.6},{"p":"RY ES","c":"sig","x":0.153,"y":1.82},
      {"p":"RY ES","c":"ns","x":-0.49,"y":0.57},{"p":"RY ES","c":"ns","x":-0.43,"y":0.37},{"p":"RY ES","c":"ns","x":-0.395,"y":0.41},{"p":"RY ES","c":"ns","x":-0.345,"y":0.13},{"p":"RY ES","c":"ns","x":-0.2,"y":0.09},{"p":"RY ES","c":"ns","x":-0.146,"y":0.79},{"p":"RY ES","c":"ns","x":-0.13,"y":0.87},{"p":"RY ES","c":"ns","x":-0.136,"y":0.59},{"p":"RY ES","c":"ns","x":-0.096,"y":0.53},{"p":"RY ES","c":"ns","x":-0.08,"y":0.41},{"p":"RY ES","c":"ns","x":-0.113,"y":0.31},{"p":"RY ES","c":"ns","x":-0.05,"y":0.22},{"p":"RY ES","c":"ns","x":-0.03,"y":0.09},{"p":"RY ES","c":"ns","x":0.036,"y":0.59},{"p":"RY ES","c":"ns","x":0.053,"y":0.77},{"p":"RY ES","c":"ns","x":0.07,"y":0.87},{"p":"RY ES","c":"ns","x":0.03,"y":0.31},{"p":"RY ES","c":"ns","x":0.086,"y":0.5},{"p":"RY ES","c":"ns","x":0.153,"y":1.01},{"p":"RY ES","c":"ns","x":0.17,"y":0.59},{"p":"RY ES","c":"ns","x":0.163,"y":0.77},{"p":"RY ES","c":"ns","x":0.235,"y":0.66},{"p":"RY ES","c":"ns","x":0.2,"y":0.17},{"p":"RY ES","c":"ns","x":0.44,"y":0.85},{"p":"RY ES","c":"ns","x":0.063,"y":0.22},{"p":"RY ES","c":"ns","x":0.02,"y":0.45},
      {"p":"RY ES","c":"ns","x":-0.99,"y":0},{"p":"RY ES","c":"ns","x":-0.92,"y":0},{"p":"RY ES","c":"ns","x":-0.86,"y":0},{"p":"RY ES","c":"ns","x":-0.81,"y":0},{"p":"RY ES","c":"ns","x":-0.75,"y":0},{"p":"RY ES","c":"ns","x":-0.7,"y":0},{"p":"RY ES","c":"ns","x":-0.64,"y":0},{"p":"RY ES","c":"ns","x":-0.59,"y":0},{"p":"RY ES","c":"ns","x":-0.53,"y":0},{"p":"RY ES","c":"ns","x":-0.48,"y":0},{"p":"RY ES","c":"ns","x":-0.42,"y":0},{"p":"RY ES","c":"ns","x":-0.37,"y":0},{"p":"RY ES","c":"ns","x":-0.31,"y":0},{"p":"RY ES","c":"ns","x":-0.26,"y":0},{"p":"RY ES","c":"ns","x":-0.2,"y":0},{"p":"RY ES","c":"ns","x":-0.15,"y":0},{"p":"RY ES","c":"ns","x":-0.09,"y":0},{"p":"RY ES","c":"ns","x":-0.04,"y":0},{"p":"RY ES","c":"ns","x":0.02,"y":0},{"p":"RY ES","c":"ns","x":0.07,"y":0},{"p":"RY ES","c":"ns","x":0.13,"y":0},{"p":"RY ES","c":"ns","x":0.18,"y":0},{"p":"RY ES","c":"ns","x":0.24,"y":0},{"p":"RY ES","c":"ns","x":0.29,"y":0},{"p":"RY ES","c":"ns","x":0.35,"y":0},{"p":"RY ES","c":"ns","x":0.4,"y":0},{"p":"RY ES","c":"ns","x":0.46,"y":0},{"p":"RY ES","c":"ns","x":0.51,"y":0},{"p":"RY ES","c":"ns","x":0.57,"y":0},{"p":"RY ES","c":"ns","x":0.62,"y":0},{"p":"RY ES","c":"ns","x":0.68,"y":0},{"p":"RY ES","c":"ns","x":0.73,"y":0},{"p":"RY ES","c":"ns","x":0.79,"y":0},{"p":"RY ES","c":"ns","x":0.81,"y":0},{"p":"RY ES","c":"ns","x":0.99,"y":0},

      {"p":"RY MXE","c":"sig","x":-0.57,"y":2.1},{"p":"RY MXE","c":"sig","x":0.143,"y":1.6},
      {"p":"RY MXE","c":"ns","x":-0.587,"y":1.1},{"p":"RY MXE","c":"ns","x":-0.265,"y":0.31},{"p":"RY MXE","c":"ns","x":-0.186,"y":0.53},{"p":"RY MXE","c":"ns","x":-0.066,"y":0.68},{"p":"RY MXE","c":"ns","x":-0.06,"y":0.22},{"p":"RY MXE","c":"ns","x":0.086,"y":0.31},{"p":"RY MXE","c":"ns","x":0.153,"y":0.22},{"p":"RY MXE","c":"ns","x":0.2,"y":0.68},{"p":"RY MXE","c":"ns","x":0.192,"y":0.59},
      {"p":"RY MXE","c":"ns","x":-0.37,"y":0},{"p":"RY MXE","c":"ns","x":-0.305,"y":0},{"p":"RY MXE","c":"ns","x":-0.156,"y":0},{"p":"RY MXE","c":"ns","x":-0.123,"y":0},{"p":"RY MXE","c":"ns","x":-0.08,"y":0},{"p":"RY MXE","c":"ns","x":0.043,"y":0},{"p":"RY MXE","c":"ns","x":0.133,"y":0},{"p":"RY MXE","c":"ns","x":0.5,"y":0}
    ]
  },
  "vconcat": [
    {
      "hconcat": [
        {
          "width": 1,
          "height": 400,
          "view": {"fill": null, "stroke": null},
          "data": {"values": [{}]},
          "mark": {"type": "point", "opacity": 0, "size": 1},
          "encoding": {
            "y": {
              "datum": 0,
              "type": "quantitative",
              "scale": {"domain": [0, 1]},
              "axis": {
                "domain": true, "domainColor": "black", "domainWidth": 2,
                "labels": false, "ticks": false, "grid": false,
                "title": "-log₁₀Q", "titleFontSize": 22, "titleFontWeight": "normal",
                "titleAnchor": "start", "titlePadding": 5, "position": 16
              }
            }
          }
        },
        {
          "vconcat": [
            {
              "bounds": "flush",
              "hconcat": [
                {
                  "title": "GY A3SS", "width": 201, "height": 166,
                  "transform": [{"filter": {"field": "p", "equal": "GY A3SS"}}],
                  "encoding": {
                    "x": {"type": "quantitative", "scale": {"domain": [-1, 1], "nice": false}, "axis": null},
                    "y": {"type": "quantitative", "scale": {"domain": [0, 9.2], "nice": false}, "axis": {"values": [0, 2, 4, 6, 8], "title": null}}
                  },
                  "layer": [
                    {"transform": [{"filter": {"field": "c", "oneOf": ["ns", "sig"]}}], "mark": {"type": "point", "clip": true}, "encoding": {"x": {"field": "x"}, "y": {"field": "y"}, "color": {"field": "c", "type": "nominal", "legend": null, "scale": {"domain": ["ns", "sig"]}}}},
                    {"transform": [{"filter": {"field": "side", "equal": "L"}}], "mark": "rule", "encoding": {"x": {"datum": 0}}},
                    {"transform": [{"filter": {"field": "side", "equal": "L"}}], "mark": "text", "encoding": {"x": {"datum": -0.54}, "y": {"datum": 7.9}, "text": {"field": "n"}}},
                    {"transform": [{"filter": {"field": "side", "equal": "R"}}], "mark": "text", "encoding": {"x": {"datum": 0.45}, "y": {"datum": 7.9}, "text": {"field": "n"}}}
                  ]
                },
                {
                  "title": "GY A5SS", "width": 201, "height": 166,
                  "transform": [{"filter": {"field": "p", "equal": "GY A5SS"}}],
                  "encoding": {
                    "x": {"type": "quantitative", "scale": {"domain": [-1, 1], "nice": false}, "axis": null},
                    "y": {"type": "quantitative", "scale": {"domain": [0, 9.2], "nice": false}, "axis": null}
                  },
                  "layer": [
                    {"transform": [{"filter": {"field": "c", "oneOf": ["ns", "sig"]}}], "mark": {"type": "point", "clip": true}, "encoding": {"x": {"field": "x"}, "y": {"field": "y"}, "color": {"field": "c", "type": "nominal", "legend": null, "scale": {"domain": ["ns", "sig"]}}}},
                    {"transform": [{"filter": {"field": "side", "equal": "L"}}], "mark": "rule", "encoding": {"x": {"datum": 0}}},
                    {"transform": [{"filter": {"field": "side", "equal": "L"}}], "mark": "text", "encoding": {"x": {"datum": -0.54}, "y": {"datum": 7.9}, "text": {"field": "n"}}},
                    {"transform": [{"filter": {"field": "side", "equal": "R"}}], "mark": "text", "encoding": {"x": {"datum": 0.45}, "y": {"datum": 7.9}, "text": {"field": "n"}}}
                  ]
                },
                {
                  "title": "GY IR", "width": 201, "height": 166,
                  "transform": [{"filter": {"field": "p", "equal": "GY IR"}}],
                  "encoding": {
                    "x": {"type": "quantitative", "scale": {"domain": [-1, 1], "nice": false}, "axis": null},
                    "y": {"type": "quantitative", "scale": {"domain": [0, 9.2], "nice": false}, "axis": null}
                  },
                  "layer": [
                    {"transform": [{"filter": {"field": "c", "oneOf": ["ns", "sig"]}}], "mark": {"type": "point", "clip": true}, "encoding": {"x": {"field": "x"}, "y": {"field": "y"}, "color": {"field": "c", "type": "nominal", "legend": null, "scale": {"domain": ["ns", "sig"]}}}},
                    {"transform": [{"filter": {"field": "side", "equal": "L"}}], "mark": "rule", "encoding": {"x": {"datum": 0}}},
                    {"transform": [{"filter": {"field": "side", "equal": "L"}}], "mark": "text", "encoding": {"x": {"datum": -0.54}, "y": {"datum": 7.9}, "text": {"field": "n"}}},
                    {"transform": [{"filter": {"field": "side", "equal": "R"}}], "mark": "text", "encoding": {"x": {"datum": 0.45}, "y": {"datum": 7.9}, "text": {"field": "n"}}}
                  ]
                },
                {
                  "title": "GY ES", "width": 201, "height": 166,
                  "transform": [{"filter": {"field": "p", "equal": "GY ES"}}],
                  "encoding": {
                    "x": {"type": "quantitative", "scale": {"domain": [-1, 1], "nice": false}, "axis": null},
                    "y": {"type": "quantitative", "scale": {"domain": [0, 9.2], "nice": false}, "axis": null}
                  },
                  "layer": [
                    {"transform": [{"filter": {"field": "c", "oneOf": ["ns", "sig"]}}], "mark": {"type": "point", "clip": true}, "encoding": {"x": {"field": "x"}, "y": {"field": "y"}, "color": {"field": "c", "type": "nominal", "legend": null, "scale": {"domain": ["ns", "sig"]}}}},
                    {"transform": [{"filter": {"field": "side", "equal": "L"}}], "mark": "rule", "encoding": {"x": {"datum": 0}}},
                    {"transform": [{"filter": {"field": "side", "equal": "L"}}], "mark": "text", "encoding": {"x": {"datum": -0.54}, "y": {"datum": 7.9}, "text": {"field": "n"}}},
                    {"transform": [{"filter": {"field": "side", "equal": "R"}}], "mark": "text", "encoding": {"x": {"datum": 0.45}, "y": {"datum": 7.9}, "text": {"field": "n"}}}
                  ]
                },
                {
                  "title": "GY MXE", "width": 201, "height": 166,
                  "transform": [{"filter": {"field": "p", "equal": "GY MXE"}}],
                  "encoding": {
                    "x": {"type": "quantitative", "scale": {"domain": [-1, 1], "nice": false}, "axis": null},
                    "y": {"type": "quantitative", "scale": {"domain": [0, 9.2], "nice": false}, "axis": null}
                  },
                  "layer": [
                    {"transform": [{"filter": {"field": "c", "oneOf": ["ns", "sig"]}}], "mark": {"type": "point", "clip": true}, "encoding": {"x": {"field": "x"}, "y": {"field": "y"}, "color": {"field": "c", "type": "nominal", "legend": null, "scale": {"domain": ["ns", "sig"]}}}},
                    {"transform": [{"filter": {"field": "side", "equal": "L"}}], "mark": "rule", "encoding": {"x": {"datum": 0}}},
                    {"transform": [{"filter": {"field": "side", "equal": "L"}}], "mark": "text", "encoding": {"x": {"datum": -0.54}, "y": {"datum": 7.9}, "text": {"field": "n"}}},
                    {"transform": [{"filter": {"field": "side", "equal": "R"}}], "mark": "text", "encoding": {"x": {"datum": 0.45}, "y": {"datum": 7.9}, "text": {"field": "n"}}}
                  ]
                }
              ],
              "spacing": 23.75
            },
            {
              "bounds": "flush",
              "hconcat": [
                {
                  "title": "RY A3SS", "width": 201, "height": 166,
                  "transform": [{"filter": {"field": "p", "equal": "RY A3SS"}}],
                  "encoding": {
                    "x": {"type": "quantitative", "scale": {"domain": [-1, 1], "nice": false}, "axis": {"values": [-1, 0, 1], "format": "d", "title": null, "labelExpr": "replace(datum.label, '−', '-')"}},
                    "y": {"type": "quantitative", "scale": {"domain": [0, 9.2], "nice": false}, "axis": {"values": [0, 2, 4, 6, 8], "title": null}}
                  },
                  "layer": [
                    {"transform": [{"filter": {"field": "c", "oneOf": ["ns", "sig"]}}], "mark": {"type": "point", "clip": true}, "encoding": {"x": {"field": "x"}, "y": {"field": "y"}, "color": {"field": "c", "type": "nominal", "legend": null, "scale": {"domain": ["ns", "sig"]}}}},
                    {"transform": [{"filter": {"field": "side", "equal": "L"}}], "mark": "rule", "encoding": {"x": {"datum": 0}}},
                    {"transform": [{"filter": {"field": "side", "equal": "L"}}], "mark": "text", "encoding": {"x": {"datum": -0.54}, "y": {"datum": 7.9}, "text": {"field": "n"}}},
                    {"transform": [{"filter": {"field": "side", "equal": "R"}}], "mark": "text", "encoding": {"x": {"datum": 0.45}, "y": {"datum": 7.9}, "text": {"field": "n"}}}
                  ]
                },
                {
                  "title": "RY A5SS", "width": 201, "height": 166,
                  "transform": [{"filter": {"field": "p", "equal": "RY A5SS"}}],
                  "encoding": {
                    "x": {"type": "quantitative", "scale": {"domain": [-1, 1], "nice": false}, "axis": {"values": [-1, 0, 1], "format": "d", "title": null, "labelExpr": "replace(datum.label, '−', '-')"}},
                    "y": {"type": "quantitative", "scale": {"domain": [0, 9.2], "nice": false}, "axis": null}
                  },
                  "layer": [
                    {"transform": [{"filter": {"field": "c", "oneOf": ["ns", "sig"]}}], "mark": {"type": "point", "clip": true}, "encoding": {"x": {"field": "x"}, "y": {"field": "y"}, "color": {"field": "c", "type": "nominal", "legend": null, "scale": {"domain": ["ns", "sig"]}}}},
                    {"transform": [{"filter": {"field": "side", "equal": "L"}}], "mark": "rule", "encoding": {"x": {"datum": 0}}},
                    {"transform": [{"filter": {"field": "side", "equal": "L"}}], "mark": "text", "encoding": {"x": {"datum": -0.54}, "y": {"datum": 7.9}, "text": {"field": "n"}}},
                    {"transform": [{"filter": {"field": "side", "equal": "R"}}], "mark": "text", "encoding": {"x": {"datum": 0.45}, "y": {"datum": 7.9}, "text": {"field": "n"}}}
                  ]
                },
                {
                  "title": "RY IR", "width": 201, "height": 166,
                  "transform": [{"filter": {"field": "p", "equal": "RY IR"}}],
                  "encoding": {
                    "x": {"type": "quantitative", "scale": {"domain": [-1, 1], "nice": false}, "axis": {"values": [-1, 0, 1], "format": "d", "title": null, "labelExpr": "replace(datum.label, '−', '-')"}},
                    "y": {"type": "quantitative", "scale": {"domain": [0, 9.2], "nice": false}, "axis": null}
                  },
                  "layer": [
                    {"transform": [{"filter": {"field": "c", "oneOf": ["ns", "sig"]}}], "mark": {"type": "point", "clip": true}, "encoding": {"x": {"field": "x"}, "y": {"field": "y"}, "color": {"field": "c", "type": "nominal", "legend": null, "scale": {"domain": ["ns", "sig"]}}}},
                    {"transform": [{"filter": {"field": "side", "equal": "L"}}], "mark": "rule", "encoding": {"x": {"datum": 0}}},
                    {"transform": [{"filter": {"field": "side", "equal": "L"}}], "mark": "text", "encoding": {"x": {"datum": -0.54}, "y": {"datum": 7.9}, "text": {"field": "n"}}},
                    {"transform": [{"filter": {"field": "side", "equal": "R"}}], "mark": "text", "encoding": {"x": {"datum": 0.45}, "y": {"datum": 7.9}, "text": {"field": "n"}}}
                  ]
                },
                {
                  "title": "RY ES", "width": 201, "height": 166,
                  "transform": [{"filter": {"field": "p", "equal": "RY ES"}}],
                  "encoding": {
                    "x": {"type": "quantitative", "scale": {"domain": [-1, 1], "nice": false}, "axis": {"values": [-1, 0, 1], "format": "d", "title": null, "labelExpr": "replace(datum.label, '−', '-')"}},
                    "y": {"type": "quantitative", "scale": {"domain": [0, 9.2], "nice": false}, "axis": null}
                  },
                  "layer": [
                    {"transform": [{"filter": {"field": "c", "oneOf": ["ns", "sig"]}}], "mark": {"type": "point", "clip": true}, "encoding": {"x": {"field": "x"}, "y": {"field": "y"}, "color": {"field": "c", "type": "nominal", "legend": null, "scale": {"domain": ["ns", "sig"]}}}},
                    {"transform": [{"filter": {"field": "side", "equal": "L"}}], "mark": "rule", "encoding": {"x": {"datum": 0}}},
                    {"transform": [{"filter": {"field": "side", "equal": "L"}}], "mark": "text", "encoding": {"x": {"datum": -0.54}, "y": {"datum": 7.9}, "text": {"field": "n"}}},
                    {"transform": [{"filter": {"field": "side", "equal": "R"}}], "mark": "text", "encoding": {"x": {"datum": 0.45}, "y": {"datum": 7.9}, "text": {"field": "n"}}}
                  ]
                },
                {
                  "title": "RY MXE", "width": 201, "height": 166,
                  "transform": [{"filter": {"field": "p", "equal": "RY MXE"}}],
                  "encoding": {
                    "x": {"type": "quantitative", "scale": {"domain": [-1, 1], "nice": false}, "axis": {"values": [-1, 0, 1], "format": "d", "title": null, "labelExpr": "replace(datum.label, '−', '-')"}},
                    "y": {"type": "quantitative", "scale": {"domain": [0, 9.2], "nice": false}, "axis": null}
                  },
                  "layer": [
                    {"transform": [{"filter": {"field": "c", "oneOf": ["ns", "sig"]}}], "mark": {"type": "point", "clip": true}, "encoding": {"x": {"field": "x"}, "y": {"field": "y"}, "color": {"field": "c", "type": "nominal", "legend": null, "scale": {"domain": ["ns", "sig"]}}}},
                    {"transform": [{"filter": {"field": "side", "equal": "L"}}], "mark": "rule", "encoding": {"x": {"datum": 0}}},
                    {"transform": [{"filter": {"field": "side", "equal": "L"}}], "mark": "text", "encoding": {"x": {"datum": -0.54}, "y": {"datum": 7.9}, "text": {"field": "n"}}},
                    {"transform": [{"filter": {"field": "side", "equal": "R"}}], "mark": "text", "encoding": {"x": {"datum": 0.45}, "y": {"datum": 7.9}, "text": {"field": "n"}}}
                  ]
                }
              ],
              "spacing": 23.75
            }
          ],
          "spacing": -5
        }
      ],
      "spacing": 22
    },
    {
      "width": 1130,
      "height": 1,
      "view": {"fill": null, "stroke": null},
      "data": {"values": [{}]},
      "mark": {"type": "point", "opacity": 0, "size": 1},
      "encoding": {
        "x": {
          "datum": 0,
          "type": "quantitative",
          "scale": {"domain": [0, 1]},
          "axis": {
            "domain": true, "domainColor": "black", "domainWidth": 2,
            "labels": false, "ticks": false, "grid": false,
            "title": "ΔPSI", "titleFontSize": 22, "titleFontWeight": "normal",
            "titleAnchor": "start", "titleAlign": "left", "titlePadding": 4,
            "offset": -2
          }
        }
      }
    }
  ],
  "spacing": 0
}
